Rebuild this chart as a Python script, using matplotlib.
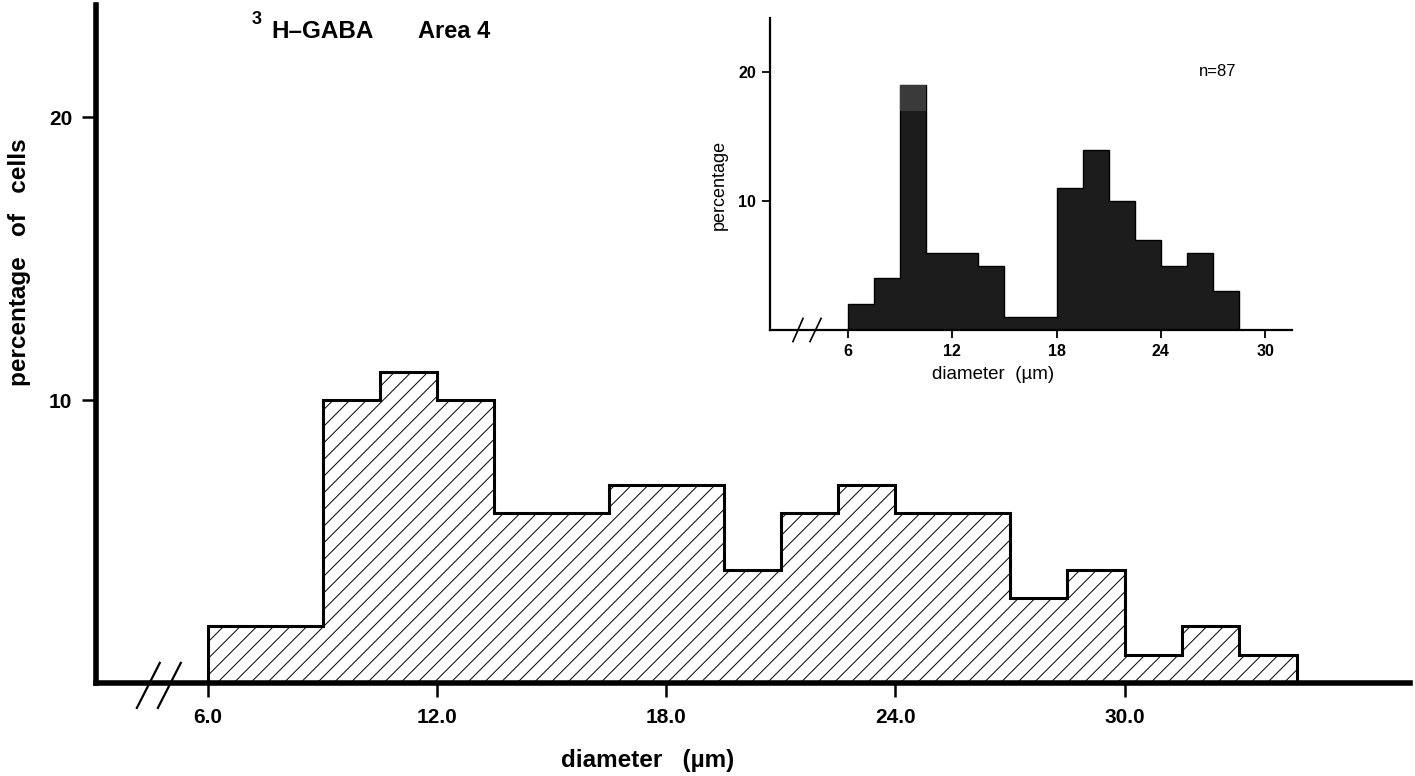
import numpy as np
import matplotlib
matplotlib.use("Agg")
import matplotlib.pyplot as plt

plt.rcParams['font.family'] = ['Liberation Sans', 'DejaVu Sans']
plt.rcParams['hatch.linewidth'] = 0.7

# main histogram: 1.5 um bins starting at 6.0
main_edges = np.arange(6.0, 34.5 + 0.01, 1.5)
main_pct = [2, 2, 10, 11, 10, 6, 6, 7, 7, 4, 6, 7, 6, 6, 3, 4, 1, 2, 1]
main_xticks = [6, 12, 18, 24, 30]
main_xlabels = ["6.0", "12.0", "18.0", "24.0", "30.0"]
main_yticks = [10, 20]

# inset histogram (n=87)
inset_edges = np.arange(6.0, 28.5 + 0.01, 1.5)
inset_pct = [2, 4, 19, 6, 6, 5, 1, 1, 11, 14, 10, 7, 5, 6, 3]
inset_peak_dark = 17  # darker print inside the tallest bar
inset_xticks = [6, 12, 18, 24, 30]
inset_yticks = [10, 20]

fig = plt.figure(figsize=(14.15, 7.76), dpi=100)

# ---- main chart
ax = fig.add_axes([96 / 1415, 93 / 776, 1314 / 1415, 678 / 776])
ax.set_facecolor('none')
ax.stairs(main_pct, main_edges, fill=True, facecolor='white',
          edgecolor='black', hatch='//', linewidth=0)
ax.stairs(main_pct, main_edges, color='black', linewidth=2.2)
ax.set_xlim(3.07, 37.47)
ax.set_ylim(0, 23.96)
for s in ['top', 'right']:
    ax.spines[s].set_visible(False)
for s in ['left', 'bottom']:
    ax.spines[s].set_linewidth(4)
    ax.spines[s].set_capstyle('projecting')
ax.set_xticks(main_xticks, main_xlabels)
ax.set_yticks(main_yticks)
ax.tick_params(axis='x', direction='out', length=10, width=1.8, pad=8,
               labelsize=15)
ax.tick_params(axis='y', direction='out', length=10, width=1.8, pad=7,
               labelsize=15)
for lab in ax.get_xticklabels() + ax.get_yticklabels():
    lab.set_fontweight('bold')

# axis break marks
for x0, x1 in [(4.14, 4.74), (4.69, 5.29)]:
    ax.plot([x0, x1], [-0.88, 0.71], color='black', lw=1.6, clip_on=False)

fig.text(20 / 1415, 1 - 262 / 776, "percentage   of   cells", rotation=90,
         ha='center', va='center', fontsize=17.5, fontweight='bold')
fig.text(648 / 1415, 1 - 761 / 776, "diameter   (µm)", ha='center',
         va='center', fontsize=17.5, fontweight='bold')
fig.text(252 / 1415, 1 - 20 / 776, "3", ha='left', va='center',
         fontsize=13, fontweight='bold')
fig.text(271 / 1415, 1 - 31 / 776, "H–GABA", ha='left', va='center',
         fontsize=17.5, fontweight='bold')
fig.text(418 / 1415, 1 - 31 / 776, "Area 4", ha='left', va='center',
         fontsize=17, fontweight='bold')

# ---- inset chart
ins = fig.add_axes([770 / 1415, 446 / 776, 522 / 1415, 312 / 776])
ins.set_facecolor('none')
ins.stairs(inset_pct, inset_edges, fill=True, facecolor='#1c1c1c',
           edgecolor='black', linewidth=1)
peak = int(np.argmax(inset_pct))
ins.fill_between(inset_edges[peak:peak + 2], inset_peak_dark, inset_pct[peak],
                 color='#3a3a3a', linewidth=0)
ins.set_xlim(1.51, 31.55)
ins.set_ylim(0, 24.2)
for s in ['top', 'right']:
    ins.spines[s].set_visible(False)
for s in ['left', 'bottom']:
    ins.spines[s].set_linewidth(1.6)
ins.set_xticks(inset_xticks)
ins.set_yticks(inset_yticks)
ins.tick_params(axis='both', direction='out', length=6, width=1.3, pad=4,
                labelsize=11.5)
for lab in ins.get_xticklabels() + ins.get_yticklabels():
    lab.set_fontweight('bold')
for x0, x1 in [(2.83, 3.41), (3.81, 4.45)]:
    ins.plot([x0, x1], [-0.9, 0.9], color='black', lw=1.2, clip_on=False)

fig.text(719 / 1415, 1 - 185 / 776, "percentage", rotation=90,
         ha='center', va='center', fontsize=13)
fig.text(993 / 1415, 1 - 374 / 776, "diameter  (µm)", ha='center',
         va='center', fontsize=13.5)
fig.text(1218 / 1415, 1 - 71 / 776, "n=87", ha='center', va='center',
         fontsize=12)

fig.savefig("out.png", dpi=100)
